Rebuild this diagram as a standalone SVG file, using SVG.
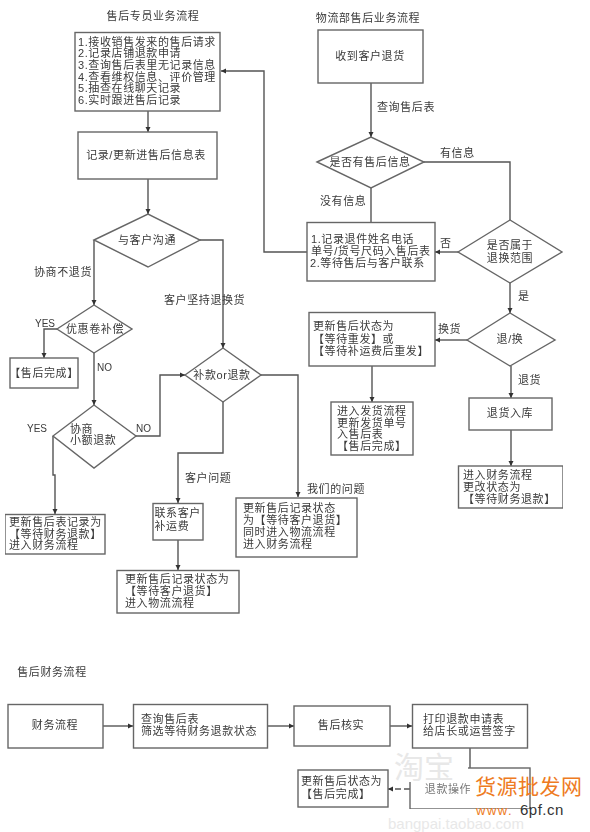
<svg xmlns="http://www.w3.org/2000/svg" width="590" height="832" viewBox="0 0 590 832">
<style>
text{font-family:"Liberation Sans","Noto Sans CJK SC",sans-serif;font-size:11px;letter-spacing:.6px;fill:#3a3a3a}
.m{text-anchor:middle}
.b{fill:#fff;stroke:#666;stroke-width:1.4}
.c{fill:none;stroke:#555;stroke-width:1.4}
.a{marker-end:url(#ah)}
.wm{fill:#e8e8e8;letter-spacing:0}
</style>
<defs>
<marker id="ah" markerUnits="userSpaceOnUse" markerWidth="6" markerHeight="6" refX="5" refY="3" orient="auto"><path d="M0 .5L5 3L0 5.500z" fill="#333"/></marker>
<filter id="soft" x="0" y="0" width="1" height="1"><feGaussianBlur stdDeviation=".35"/></filter>
</defs>
<rect width="590" height="832" fill="#fff"/>
<g filter="url(#soft)">
<g id="titles">
<text x="153" y="20" class="m">售后专员业务流程</text>
<text x="368" y="22" class="m">物流部售后业务流程</text>
<text x="52" y="676" class="m">售后财务流程</text>
</g>
<g id="connectors">
<path class="c a" d="M148 111V132"/>
<path class="c a" d="M148 179V214"/>
<path class="c a" d="M200 240H223V348"/>
<path class="c a" d="M94 240V305"/>
<path class="c a" d="M57 329H44V358"/>
<path class="c a" d="M94 353V405"/>
<path class="c a" d="M136 436H160V375H185"/>
<path class="c a" d="M53 436V475H55V514"/>
<path class="c a" d="M223 402V453H178V503"/>
<path class="c a" d="M178 540V570"/>
<path class="c a" d="M261 375H298V497"/>
<path class="c a" d="M371 83V137"/>
<path class="c" d="M371 188V222"/>
<path class="c" d="M424 162H510V220"/>
<path class="c a" d="M458 252H435"/>
<path class="c a" d="M307 252H264V71H221"/>
<path class="c a" d="M510 283V313"/>
<path class="c a" d="M467 340H435"/>
<path class="c a" d="M372 366V402"/>
<path class="c a" d="M511 366V398"/>
<path class="c a" d="M511 430V466"/>
<path class="c a" d="M103 726H133"/>
<path class="c a" d="M267 726H294"/>
<path class="c a" d="M390 726H412"/>
<path class="c" d="M470 748V770"/>
<path class="c a" d="M410 789H388" stroke-dasharray="6 3"/>
</g>
<g id="n1"><rect class="b" x="75" y="32.500" width="145" height="78.500"/>
<text x="78" y="45.500">1.接收销售发来的售后请求</text><text x="78" y="57.200">2.记录店铺退款申请</text><text x="78" y="68.800">3.查询售后表里无记录信息</text><text x="78" y="80.500">4.查看维权信息、评价管理</text><text x="78" y="92.200">5.抽查在线聊天记录</text><text x="78" y="103.800">6.实时跟进售后记录</text></g>
<g id="n2"><rect class="b" x="78" y="132" width="139" height="47"/><text x="146" y="159" class="m">记录/更新进售后信息表</text></g>
<g id="n3"><path class="b" d="M94 240L148 214L200 240L148 267z"/><text x="147" y="244" class="m">与客户沟通</text></g>
<g id="n4"><path class="b" d="M57 329L94 305L132 329L94 353z"/><text x="95" y="333" class="m">优惠卷补偿</text></g>
<g id="n5"><rect class="b" x="10" y="358" width="68" height="30"/><text x="44" y="377" class="m">【售后完成】</text></g>
<g id="n6"><path class="b" d="M53 436L94 405L136 436L94 468z"/><text x="70" y="433">协商</text><text x="70" y="444">小额退款</text></g>
<g id="n7"><rect class="b" x="5" y="514.500" width="100" height="39.500"/><text x="9" y="525.500">更新售后表记录为</text><text x="9" y="537.500">【等待财务退款】</text><text x="9" y="549">进入财务流程</text></g>
<g id="n8"><path class="b" d="M185 375L223 348L261 375L223 402z"/><text x="222" y="379" class="m">补款or退款</text></g>
<g id="n9"><rect class="b" x="153" y="503.500" width="50" height="36.500"/><text x="154.500" y="516.500">联系客户</text><text x="154.500" y="530">补运费</text></g>
<g id="n10"><rect class="b" x="117" y="570.500" width="122" height="42.500"/><text x="125" y="583">更新售后记录状态为</text><text x="125" y="594.500">【等待客户退货】</text><text x="125" y="607">进入物流流程</text></g>
<g id="n11"><rect class="b" x="236" y="498" width="121" height="59"/><text x="243" y="512">更新售后记录状态</text><text x="243" y="524">为【等待客户退货】</text><text x="243" y="536">同时进入物流流程</text><text x="243" y="548">进入财务流程</text></g>
<g id="n12"><rect class="b" x="318" y="30" width="105" height="53"/><text x="370" y="60" class="m">收到客户退货</text></g>
<g id="n13"><path class="b" d="M317 162L371 137L424 162L371 188z"/><text x="370" y="166" class="m">是否有售后信息</text></g>
<g id="n14"><rect class="b" x="307" y="222.500" width="128" height="58.500"/><text x="311" y="243">1.记录退件姓名电话</text><text x="311" y="255">单号/货号尺码入售后表</text><text x="310" y="267">2.等待售后与客户联系</text></g>
<g id="n15"><path class="b" d="M458 252L510 220L562 252L510 283z"/><text x="510" y="249" class="m">是否属于</text><text x="510" y="262" class="m">退换范围</text></g>
<g id="n16"><path class="b" d="M467 340L510 313L555 340L510 366z"/><text x="510" y="343" class="m">退/换</text></g>
<g id="n17"><rect class="b" x="309" y="312.500" width="126" height="53.500"/><text x="313" y="330">更新售后状态为</text><text x="313" y="343">【等待重发】或</text><text x="313" y="354.500">【等待补运费后重发】</text></g>
<g id="n18"><rect class="b" x="331" y="402" width="82" height="53"/><text x="337" y="415">进入发货流程</text><text x="337" y="426.500">更新发货单号</text><text x="337" y="438">入售后表</text><text x="337" y="450">【售后完成】</text></g>
<g id="n19"><rect class="b" x="469" y="398" width="83" height="32"/><text x="510" y="417" class="m">退货入库</text></g>
<g id="n20"><rect class="b" x="458.500" y="466" width="104.500" height="42"/><text x="463" y="478.500">进入财务流程</text><text x="463" y="490.500">更改状态为</text><text x="463" y="502.500">【等待财务退款】</text></g>
<g id="n21"><rect class="b" x="8" y="704.500" width="95" height="43.500"/><text x="55" y="729" class="m">财务流程</text></g>
<g id="n22"><rect class="b" x="133.500" y="704.500" width="134" height="43.500"/><text x="141" y="723">查询售后表</text><text x="141" y="735">筛选等待财务退款状态</text></g>
<g id="n23"><rect class="b" x="294" y="706" width="96" height="40"/><text x="341" y="729" class="m">售后核实</text></g>
<g id="n24"><rect class="b" x="412.500" y="704.500" width="115" height="43.500"/><text x="423" y="723">打印退款申请表</text><text x="423" y="735">给店长或运营签字</text></g>
<g id="n25"><rect class="b" x="410" y="768" width="120" height="41"/><text x="448" y="793" class="m" style="fill:#777">退款操作</text></g>
<g id="n26"><rect class="b" x="298" y="770" width="90" height="37"/><text x="301" y="785">更新售后状态为</text><text x="301" y="798">【售后完成】</text></g>
<g id="labels">
<text x="34" y="276">协商不退货</text>
<text x="164" y="304">客户坚持退换货</text>
<text x="35" y="327" style="letter-spacing:0;font-size:10px">YES</text>
<text x="97" y="371" style="letter-spacing:0;font-size:10px">NO</text>
<text x="27" y="432" style="letter-spacing:0;font-size:10px">YES</text>
<text x="136" y="432" style="letter-spacing:0;font-size:10px">NO</text>
<text x="185" y="482">客户问题</text>
<text x="307" y="493">我们的问题</text>
<text x="377" y="111">查询售后表</text>
<text x="440" y="157">有信息</text>
<text x="320" y="205">没有信息</text>
<text x="440" y="247">否</text>
<text x="518" y="300">是</text>
<text x="438" y="333">换货</text>
<text x="518" y="384">退货</text>
</g>
</g>
<g id="watermark">
<path d="M405 766H468V771H405zM407 771H413V782H407z" fill="#fff"/>
<text x="394" y="778" class="wm" style="font-size:30px">淘宝</text>
<text x="388" y="829" class="wm" style="font-size:15px">bangpai.taobao.com</text>
<text x="475" y="794" style="font-size:21px;fill:#ee7b22;letter-spacing:.5px;font-family:'Noto Sans CJK SC',sans-serif">货源批发网</text>
<text x="476" y="815" style="font-size:13px;fill:#ee7b22;letter-spacing:1.5px">www.</text>
<text x="520" y="815" style="font-size:15px;fill:#333;letter-spacing:.5px">6pf.cn</text>
</g>
</svg>
